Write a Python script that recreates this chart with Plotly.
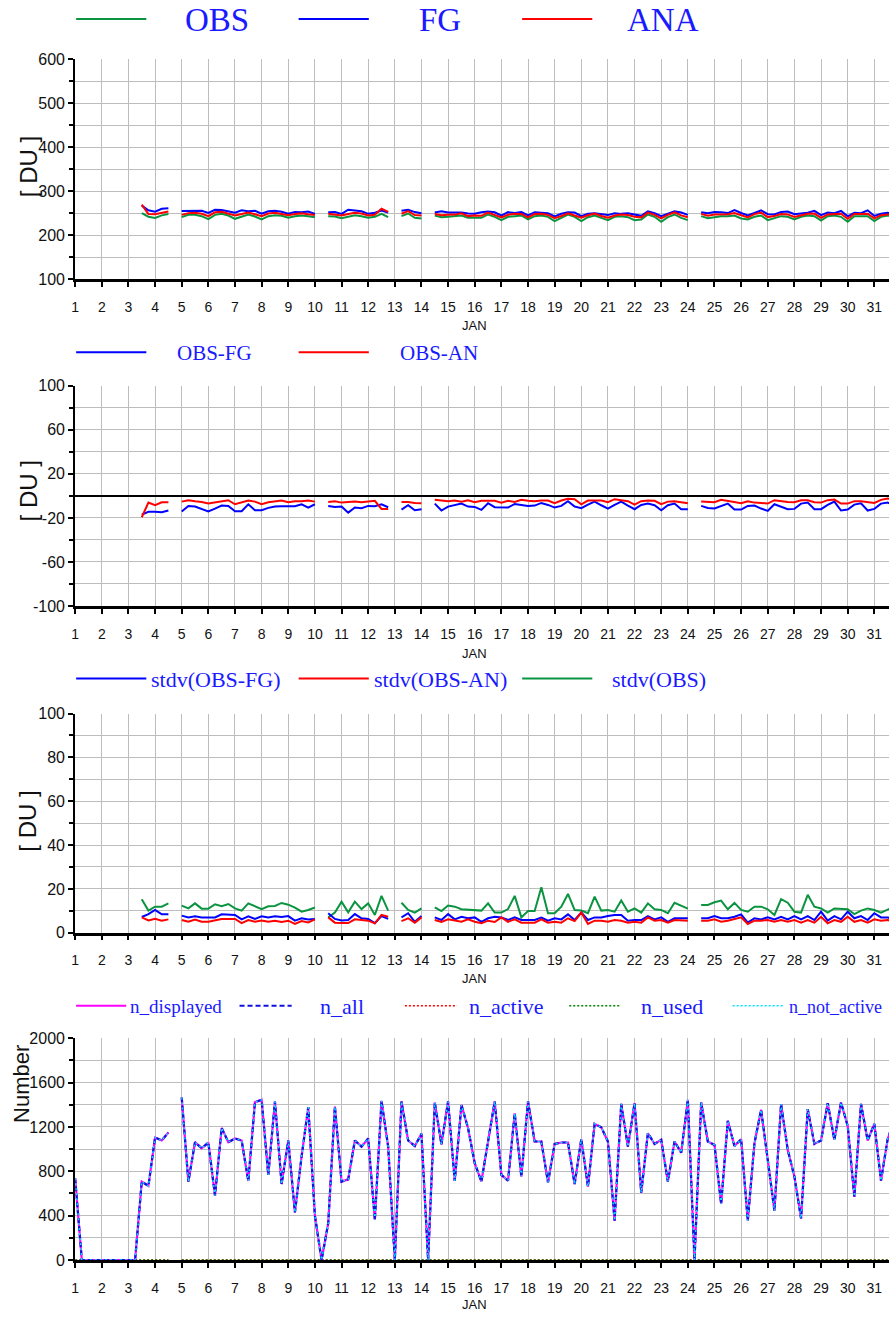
import plotly.graph_objects as go

W, H = 889, 1317
_ = None

# 6-hourly analysis times, 1 JAN 00Z .. 31 JAN 18Z (in day-of-month units)
TIME = [1 + 0.25 * i for i in range(124)]
DAY_TICKS = list(range(1, 32))

# ---- total ozone [DU] ----
OBS = ([_] * 10 + [250, 242, 239, 245, 248] + [_] +
       [240.9, 246.2, 246.2, 243.2, 236.4, 246.2, 248.5, 244.7, 237.2, 242.5, 247.0,
        242.5, 235.7, 243.2, 245.5, 244.0, 239.4, 243.2, 244.7, 243.2, 240.9] + [_] +
       [243.2, 242.5, 238.7, 242.5, 245.5, 243.2, 239.4, 241.7, 248.5, 240.9] + [_] +
       [243.2, 249.2, 239.4, 237.9] + [_] +
       [244.7, 240.9, 241.7, 242.5, 244.7, 239.4, 238.7, 239.4, 247.0, 241.7, 234.1, 241.7,
        243.2, 244.7, 235.7, 243.2, 244.7, 241.7, 231.9, 239.4, 247.0, 241.7, 231.9, 240.9,
        244.7, 239.4, 234.1, 241.7, 243.2, 240.9, 234.1, 235.7, 247.0, 241.7, 230.4, 240.9,
        247.0, 239.4, 234.1] + [_] +
       [243.2, 238.7, 240.9, 243.2, 243.2, 244.7, 237.9, 235.7, 241.7, 244.7, 234.1, 239.4,
        243.2, 241.7, 235.7, 241.7, 244.7, 243.2, 233.4, 243.2, 244.7, 241.7, 230.4, 243.2,
        243.2, 243.2, 231.9, 241.7, 244.7, 241.7])

# ---- departures [DU] ----
OBS_FG = ([_] * 10 + [-17.0, -14.5, -14.5, -14.8, -13.3] + [_] +
          [-14.2, -9.1, -9.7, -12.1, -14.2, -11.5, -8.8, -9.1, -13.9, -13.9, -7.6,
           -13.0, -13.0, -10.9, -9.7, -9.4, -9.4, -9.4, -7.6, -10.6, -7.6] + [_] +
          [-9.1, -10.0, -9.7, -15.2, -10.6, -11.2, -9.1, -9.4, -7.6, -10.3] + [_] +
          [-12.4, -8.5, -13.0, -12.1] + [_] +
          [-7.0, -13.3, -9.7, -8.5, -7.0, -9.7, -10.0, -12.7, -6.7, -10.3, -10.3, -10.6,
           -7.3, -7.9, -9.1, -8.8, -6.4, -8.2, -10.6, -9.1, -4.8, -9.7, -11.2, -7.9,
           -5.2, -8.5, -11.5, -8.2, -5.2, -8.8, -12.1, -8.2, -7.0, -8.5, -13.0, -8.5,
           -7.0, -12.1, -12.1] + [_] +
          [-9.1, -10.9, -11.5, -9.1, -7.0, -12.4, -12.4, -9.1, -8.8, -11.5, -13.6, -7.6,
           -9.7, -12.1, -11.8, -7.0, -6.1, -12.1, -12.1, -8.2, -5.2, -13.3, -12.4, -7.9,
           -6.7, -13.3, -11.8, -7.0, -6.1, -8.2])

OBS_AN = ([_] * 10 + [-19.4, -6.1, -8.5, -5.8, -5.8] + [_] +
          [-5.2, -3.9, -4.8, -5.5, -7.0, -5.8, -4.5, -3.9, -7.6, -5.8, -4.2,
           -5.2, -7.6, -5.8, -5.2, -4.2, -5.8, -4.8, -4.8, -4.2, -5.2] + [_] +
          [-5.5, -4.8, -6.1, -5.8, -5.2, -5.8, -5.2, -4.5, -11.8, -11.8] + [_] +
          [-5.5, -5.5, -6.4, -6.7] + [_] +
          [-3.6, -4.5, -4.8, -4.2, -5.2, -3.9, -5.8, -4.5, -4.5, -4.5, -6.1, -4.5,
           -5.5, -3.6, -4.5, -4.8, -4.2, -4.2, -6.7, -4.2, -2.7, -3.0, -7.6, -4.2,
           -4.2, -4.2, -5.8, -3.0, -3.9, -4.8, -7.9, -4.8, -4.2, -4.5, -7.6, -5.2,
           -4.8, -5.5, -6.7] + [_] +
          [-5.2, -5.5, -5.8, -3.6, -4.5, -5.8, -6.7, -4.8, -6.1, -6.4, -7.0, -3.9,
           -4.8, -5.5, -5.8, -3.9, -3.9, -5.8, -6.1, -3.9, -3.3, -7.0, -7.0, -4.8,
           -4.8, -5.5, -6.4, -3.6, -2.4, -3.6])

# model columns follow from the observed column and its departures
FG = [o - d if o is not None else None for o, d in zip(OBS, OBS_FG)]
ANA = [o - d if o is not None else None for o, d in zip(OBS, OBS_AN)]

# ---- standard deviations [DU] ----
STDV_FG = ([_] * 10 + [7.2, 8.5, 10.4, 8.4, 8.4] + [_] +
           [7.8, 7.0, 7.5, 7.0, 7.0, 7.0, 8.4, 8.1, 8.1, 6.1, 7.5,
            6.3, 7.5, 7.0, 7.5, 7.2, 7.6, 5.5, 6.6, 6.0, 6.3] + [_] +
           [8.9, 6.3, 5.6, 5.8, 8.5, 6.6, 6.3, 4.4, 7.6, 6.3] + [_] +
           [7.0, 8.9, 5.0, 7.6] + [_] +
           [7.0, 5.8, 8.5, 6.1, 7.3, 6.6, 7.0, 5.0, 6.6, 7.3, 7.0, 5.8,
            7.0, 5.8, 5.8, 5.8, 6.9, 5.5, 6.6, 6.1, 8.4, 5.8, 9.2, 5.8,
            7.0, 7.0, 7.6, 8.1, 8.1, 5.5, 5.8, 5.8, 7.6, 6.1, 7.0, 5.0,
            6.6, 6.6, 6.6] + [_] +
           [6.6, 6.6, 7.6, 6.6, 6.6, 7.3, 8.4, 4.6, 6.6, 6.1, 7.0, 6.1,
            7.3, 6.1, 7.6, 6.1, 7.6, 5.8, 9.6, 5.5, 7.6, 6.1, 9.6, 6.6,
            7.6, 5.8, 8.9, 7.0, 7.0, 5.8])

STDV_AN = ([_] * 10 + [7.0, 5.6, 6.4, 5.5, 6.1] + [_] +
           [5.8, 5.0, 6.0, 5.0, 5.0, 5.5, 6.3, 6.3, 6.3, 4.4, 5.8,
            5.0, 5.6, 5.0, 5.5, 4.9, 5.5, 4.0, 5.3, 4.7, 6.1] + [_] +
           [7.0, 4.6, 4.4, 4.4, 6.1, 5.8, 5.5, 4.3, 8.1, 7.3] + [_] +
           [5.3, 6.6, 4.6, 7.0] + [_] +
           [5.8, 4.9, 6.1, 5.5, 5.0, 6.1, 5.0, 4.3, 5.5, 4.9, 7.0, 5.0,
            6.1, 4.6, 4.6, 4.6, 6.1, 4.6, 5.0, 4.6, 6.6, 5.3, 9.2, 4.0,
            5.5, 5.5, 5.0, 5.8, 5.5, 4.6, 5.0, 4.6, 7.0, 5.5, 5.8, 4.6,
            5.8, 5.5, 5.5] + [_] +
           [5.5, 5.5, 6.1, 5.0, 5.5, 6.1, 7.0, 4.0, 5.5, 5.5, 5.8, 5.0,
            5.8, 5.0, 5.8, 4.6, 5.8, 4.6, 7.3, 4.3, 5.8, 5.0, 7.3, 5.0,
            5.8, 4.6, 6.1, 5.5, 5.8, 5.0])

STDV_OBS = ([_] * 10 + [15.3, 10.1, 11.9, 11.9, 13.4] + [_] +
            [12.4, 11.1, 13.4, 11.0, 11.0, 13.0, 12.1, 13.1, 11.1, 10.1, 13.4,
             12.2, 10.8, 12.1, 12.2, 13.6, 12.8, 11.5, 9.6, 10.4, 11.5] + [_] +
            [7.0, 9.2, 14.2, 9.3, 14.2, 10.8, 13.4, 8.1, 16.8, 10.1] + [_] +
            [13.7, 10.4, 9.2, 11.1] + [_] +
            [11.6, 9.9, 12.4, 11.9, 10.7, 10.4, 10.2, 10.1, 13.4, 9.2, 9.2, 10.8,
             16.8, 7.0, 9.9, 9.9, 20.8, 8.9, 8.9, 11.9, 17.7, 10.4, 10.1, 8.9,
             16.5, 10.1, 10.4, 9.6, 14.7, 9.6, 11.1, 9.2, 13.4, 10.7, 10.4, 8.9,
             13.7, 12.2, 11.0] + [_] +
            [12.7, 12.7, 13.9, 14.7, 10.7, 13.6, 10.4, 9.6, 11.9, 11.9, 10.7, 8.1,
             15.3, 13.7, 9.6, 9.2, 17.3, 11.9, 11.1, 9.2, 11.1, 10.8, 10.7, 8.5,
             10.1, 11.1, 10.4, 9.2, 10.4, 11.9])

# ---- observation counts ----
N_ALL = ([737] + [0] * 9 + [707, 668, 1105, 1078, 1150] + [_] +
         [1466, 707, 1063, 1008, 1060, 581, 1192, 1063, 1096, 1078, 713, 1424,
          1445, 768, 1430, 686, 1078, 430, 933, 1379, 400, 0, 331, 1385,
          707, 728, 1078, 1023, 1096, 361, 1436, 1023, 0, 1430, 1078, 1029,
          1138, 0, 1421, 1044, 1430, 713, 1400, 1189, 873, 707, 1069, 1430,
          768, 716, 1324, 753, 1430, 1069, 1069, 701, 1047, 1060, 1060, 686,
          1090, 662, 1228, 1198, 1069, 355, 1409, 1023, 1415, 608, 1144, 1047,
          1084, 707, 1069, 969, 1445, 0, 1421, 1069, 1038, 506, 1255, 1029,
          1090, 355, 1054, 1355, 903, 445, 1406, 993, 753, 376, 1361, 1047,
          1078, 1415, 1084, 1421, 1210, 572, 1409, 1078, 1228, 716, 1090, 1270])
N_DISPLAYED = N_ALL
N_NOT_ACTIVE = N_ALL
N_ACTIVE = [0] * 15 + [_] + [0] * 108
N_USED = [0] * 15 + [_] + [0] * 108

for series in (OBS, OBS_FG, OBS_AN, STDV_FG, STDV_AN, STDV_OBS, N_ALL, N_ACTIVE):
    assert len(series) == len(TIME), len(series)

# ---- styling ----
SANS = "Liberation Sans, Arial, sans-serif"
SERIF = "Liberation Serif, Times New Roman, serif"
GRID = "#bdbdbd"
GREEN = "#0b9440"
BLUE = "#0000ff"
RED = "#ff0000"
LEG_TEXT = "#1a1aff"

# page placement of the figure inside the rendered page (offset, scale)
OX, SX = 3.0, 0.9933
OY, SY = 9.0, 0.9863


def fx(x):
    """page x (px) -> figure x (px)"""
    return (x - OX) / SX


def fy(y):
    """page y (px) -> figure y (px)"""
    return (y - OY) / SY


def px(x):
    return min(1.0, max(0.0, fx(x) / W))


def py(y):
    return min(1.0, max(0.0, 1 - fy(y) / H))


DAY_PX = 26.58              # page pixels per day
X_LEFT = 74                 # page x of day 1
X0 = px(X_LEFT)
X_RANGE = [1, 1 + (W - fx(X_LEFT)) / (DAY_PX / SX)]


def xaxis_cfg(anchor):
    return dict(domain=[X0, 1.0], range=X_RANGE, anchor=anchor,
                tickmode="array", tickvals=DAY_TICKS,
                ticktext=[str(d) for d in DAY_TICKS],
                showgrid=True, gridcolor=GRID, gridwidth=1,
                showline=True, linecolor="black", linewidth=2.5,
                ticks="outside", ticklen=5, tickwidth=1.5, tickcolor="black",
                tickfont=dict(family=SANS, size=14, color="#111"),
                ticklabelstandoff=8, zeroline=False, fixedrange=True)


def yaxis_cfg(anchor, dom, rng, dtick, minor_dtick, zeroline=False):
    vals = list(range(rng[0], rng[1] + 1, dtick))
    return dict(domain=dom, range=rng, anchor=anchor,
                tickmode="array", tickvals=vals, ticktext=[str(v) for v in vals],
                showgrid=True, gridcolor=GRID, gridwidth=1,
                showline=True, linecolor="black", linewidth=2,
                ticks="outside", ticklen=5, tickwidth=1.5, tickcolor="black",
                minor=dict(tickmode="linear", tick0=rng[0], dtick=minor_dtick,
                           showgrid=True, gridcolor=GRID, gridwidth=1,
                           ticks="outside", ticklen=4, tickwidth=1.5,
                           tickcolor="black"),
                tickfont=dict(family=SANS, size=16, color="#111"),
                zeroline=zeroline, zerolinecolor="black", zerolinewidth=2,
                fixedrange=True)


fig = go.Figure()


def add_line(y, xa, ya, color, width=2, dash="solid"):
    fig.add_trace(go.Scatter(x=TIME, y=y, mode="lines", xaxis=xa, yaxis=ya,
                             line=dict(color=color, width=width, dash=dash),
                             connectgaps=False, showlegend=False, hoverinfo="skip"))


# panel 1: columns
add_line(OBS, "x", "y", GREEN)
add_line(FG, "x", "y", BLUE)
add_line(ANA, "x", "y", RED)
# panel 2: departures
add_line(OBS_FG, "x2", "y2", BLUE)
add_line(OBS_AN, "x2", "y2", RED)
# panel 3: standard deviations
add_line(STDV_OBS, "x3", "y3", GREEN)
add_line(STDV_FG, "x3", "y3", BLUE)
add_line(STDV_AN, "x3", "y3", RED)
# panel 4: counts
add_line(N_ACTIVE, "x4", "y4", RED, 1.5, "2px,2px")
add_line(N_USED, "x4", "y4", "#008000", 1.5, "2px,2px")
add_line(N_DISPLAYED, "x4", "y4", "#ff00ff", 2.2)
add_line(N_ALL, "x4", "y4", "#1010e0", 2.2, "5px,3px")
add_line(N_NOT_ACTIVE, "x4", "y4", "#00e5ff", 1.4, "2px,3px")

layout = dict(
    width=W, height=H, margin=dict(l=0, r=0, t=0, b=0),
    paper_bgcolor="white", plot_bgcolor="white", showlegend=False,
    xaxis=xaxis_cfg("y"), xaxis2=xaxis_cfg("y2"),
    xaxis3=xaxis_cfg("y3"), xaxis4=xaxis_cfg("y4"),
    yaxis=yaxis_cfg("x", [py(280), py(60)], [100, 600], 100, 50),
    yaxis2=yaxis_cfg("x2", [py(606.5), py(386.5)], [-100, 100], 40, 20, zeroline=True),
    yaxis3=yaxis_cfg("x3", [py(933), py(714)], [0, 100], 20, 10),
    yaxis4=yaxis_cfg("x4", [py(1260), py(1038.5)], [0, 2000], 400, 200),
)
fig.update_layout(**layout)

shapes = []
annotations = []


def legend_item(x0, x1, y, color, label, tx, size, dash="solid", width=2):
    shapes.append(dict(type="line", xref="paper", yref="paper",
                       x0=px(x0), x1=px(x1), y0=py(y), y1=py(y),
                       line=dict(color=color, width=width, dash=dash)))
    annotations.append(dict(xref="paper", yref="paper", x=px(tx), y=py(y + 1),
                            xanchor="left", yanchor="middle", showarrow=False,
                            borderpad=0, borderwidth=0,
                            text=label, font=dict(family=SERIF, size=size, color=LEG_TEXT)))


# legends above each panel
legend_item(75, 145, 20, GREEN, "OBS", 184, 33)
legend_item(297, 367, 20, BLUE, "FG", 417, 33)
legend_item(520, 590, 20, RED, "ANA", 625, 33)

legend_item(75, 145, 353, BLUE, "OBS-FG", 176, 21)
legend_item(297, 367, 353, RED, "OBS-AN", 398, 21)

legend_item(75, 145, 679, BLUE, "stdv(OBS-FG)", 150, 22)
legend_item(297, 367, 679, RED, "stdv(OBS-AN)", 372, 22)
legend_item(520, 590, 679, GREEN, "stdv(OBS)", 610, 22)

legend_item(75, 125, 1006, "#ff00ff", "n_displayed", 129, 19)
legend_item(238, 290, 1006, "#1010e0", "n_all", 318, 22, dash="5px,3px")
legend_item(403, 455, 1006, RED, "n_active", 467, 22, dash="2px,2px", width=1.5)
legend_item(567, 618, 1006, "#008000", "n_used", 639, 22, dash="2px,2px", width=1.5)
legend_item(730, 781, 1006, "#00e5ff", "n_not_active", 786, 18, dash="2px,2px", width=1.5)

# y-axis titles
for label, yc, xc, size in (("[ DU ]", 168, 27, 24), ("[ DU ]", 492, 27, 24),
                            ("[ DU ]", 822, 27, 24), ("Number", 1084, 21, 22)):
    annotations.append(dict(xref="paper", yref="paper", x=px(xc), y=py(yc),
                            xanchor="center", yanchor="middle", showarrow=False,
                            textangle=-90, text=label,
                            font=dict(family=SANS, size=size, color="#111")))

# month label under each time axis
for yc in (326, 654, 979, 1304):
    annotations.append(dict(xref="paper", yref="paper", x=px(472), y=py(yc),
                            xanchor="center", yanchor="middle", showarrow=False,
                            text="JAN", font=dict(family=SANS, size=13, color="#111")))

fig.update_layout(shapes=shapes, annotations=annotations)

fig.write_html("out.html")
